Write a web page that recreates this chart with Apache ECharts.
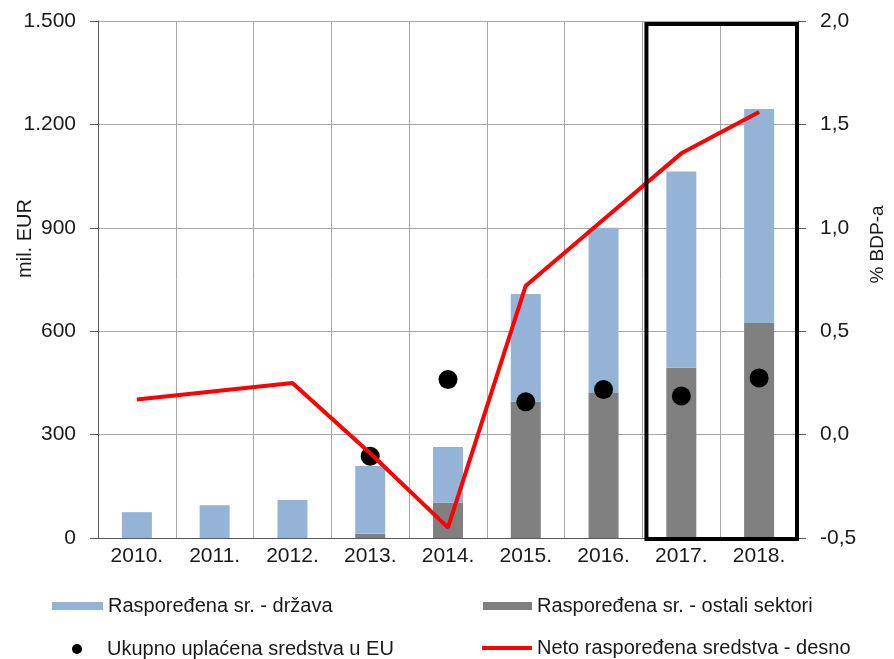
<!DOCTYPE html>
<html>
<head>
<meta charset="utf-8">
<script src="https://cdn.jsdelivr.net/npm/echarts@6/dist/echarts.min.js"></script>
<style>
  html, body { margin: 0; padding: 0; background: #fff; }
  #main { width: 894px; height: 659px; }
</style>
</head>
<body>
<div id="main"></div>
<script>
// DATA -----------------------------------------------------------------
var years = ['2010.', '2011.', '2012.', '2013.', '2014.', '2015.', '2016.', '2017.', '2018.'];
var drzava = [75, 95, 110, 197, 162, 313, 479, 569, 621];
var ostaliSektori = [0, 0, 0, 12, 102, 395, 421, 494, 624];
var uplacena = [null, null, null, 237, 460, 395, 431, 412, 464];
var netoDesno = [0.17, 0.21, 0.25, -0.09, -0.45, 0.72, 1.04, 1.36, 1.56];

var FONT = 'Liberation Sans';
var TXT = '#1a1a1a';

var chart = echarts.init(document.getElementById('main'));

function legendBox(name, left, top, w, h, icon, pad) {
    return {
        data: [name],
        left: left,
        top: top,
        itemWidth: w,
        itemHeight: h,
        icon: icon,
        padding: 0,
        selectedMode: false,
        textStyle: {
            fontFamily: FONT, fontSize: 20, color: TXT,
            padding: pad || 0
        }
    };
}

var option = {
    animation: false,
    grid: { left: 98, right: 96, top: 21, bottom: 121, containLabel: false, outerBoundsMode: 'none' },
    legend: [
        legendBox('Raspoređena sr. - država', 52, 596, 51, 8, 'rect'),
        legendBox('Raspoređena sr. - ostali sektori', 483, 596, 49, 8, 'rect'),
        legendBox('Ukupno uplaćena sredstva u EU', 72, 639, 10, 10, 'circle', [0, 0, 0, 20]),
        legendBox('Neto raspoređena sredstva - desno', 482, 638, 50, 4, 'rect')
    ],
    xAxis: {
        type: 'category',
        data: years,
        axisLine: { lineStyle: { color: '#595959', width: 1 } },
        axisTick: { show: false },
        axisLabel: { fontFamily: FONT, fontSize: 21, color: TXT, margin: 8 },
        splitLine: { show: true, lineStyle: { color: '#a6a6a6', width: 1 } }
    },
    yAxis: [
        {
            type: 'value',
            min: 0, max: 1500, interval: 300,
            name: 'mil. EUR',
            nameLocation: 'middle',
            nameRotate: 90,
            nameGap: 63,
            nameMoveOverlap: false,
            nameTextStyle: { fontFamily: FONT, fontSize: 20, color: TXT, padding: [0, 0, 0, 82] },
            axisLine: { show: true, lineStyle: { color: '#595959', width: 1 } },
            axisTick: { show: true, length: 8, lineStyle: { color: '#595959' } },
            axisLabel: {
                fontFamily: FONT, fontSize: 21, color: TXT, margin: 22,
                formatter: function (v) { return v >= 1000 ? Math.floor(v / 1000) + '.' + String(v % 1000).padStart(3, '0') : String(v); }
            },
            splitLine: { show: true, lineStyle: { color: '#a6a6a6', width: 1 } }
        },
        {
            type: 'value',
            min: -0.5, max: 2.0, interval: 0.5,
            position: 'right',
            name: '% BDP-a',
            nameLocation: 'middle',
            nameRotate: 90,
            nameGap: 70,
            nameMoveOverlap: false,
            nameTextStyle: { fontFamily: FONT, fontSize: 19, color: TXT, padding: [0, 0, 0, 70] },
            axisLine: { show: true, lineStyle: { color: '#595959', width: 1 } },
            axisTick: { show: true, length: 8, lineStyle: { color: '#595959' } },
            axisLabel: {
                fontFamily: FONT, fontSize: 21, color: TXT, margin: 22,
                formatter: function (v) { return v.toFixed(1).replace('.', ','); }
            },
            splitLine: { show: false }
        }
    ],
    series: [
        {
            name: 'Raspoređena sr. - ostali sektori',
            type: 'bar',
            stack: 'rs',
            barWidth: 30,
            color: '#808080',
            data: ostaliSektori
        },
        {
            name: 'Raspoređena sr. - država',
            type: 'bar',
            stack: 'rs',
            barWidth: 30,
            color: '#95b3d7',
            data: drzava
        },
        {
            name: 'Ukupno uplaćena sredstva u EU',
            type: 'scatter',
            symbol: 'circle',
            symbolSize: 19,
            color: '#000000',
            itemStyle: { opacity: 1 },
            data: uplacena
        },
        {
            name: 'Neto raspoređena sredstva - desno',
            type: 'line',
            yAxisIndex: 1,
            color: '#ff0000',
            symbol: 'none',
            lineStyle: { color: '#ff0000', width: 4 },
            data: netoDesno
        }
    ]
};

chart.setOption(option);

// BOX AROUND 2017-2018 (placed with the chart's own scales)
var c17 = chart.convertToPixel({ xAxisIndex: 0 }, '2017.');
var c18 = chart.convertToPixel({ xAxisIndex: 0 }, '2018.');
var band = c18 - c17;
var yTop = chart.convertToPixel({ yAxisIndex: 0 }, 1500);
var yBot = chart.convertToPixel({ yAxisIndex: 0 }, 0);

chart.setOption({
    graphic: [{
        type: 'rect',
        z: 100,
        shape: {
            x: c17 - band / 2 + 4,
            y: yTop + 3,
            width: (c18 + band / 2) - (c17 - band / 2) - 5,
            height: yBot - yTop - 2
        },
        style: { fill: 'none', stroke: '#000', lineWidth: 4 }
    }]
});
</script>
</body>
</html>
